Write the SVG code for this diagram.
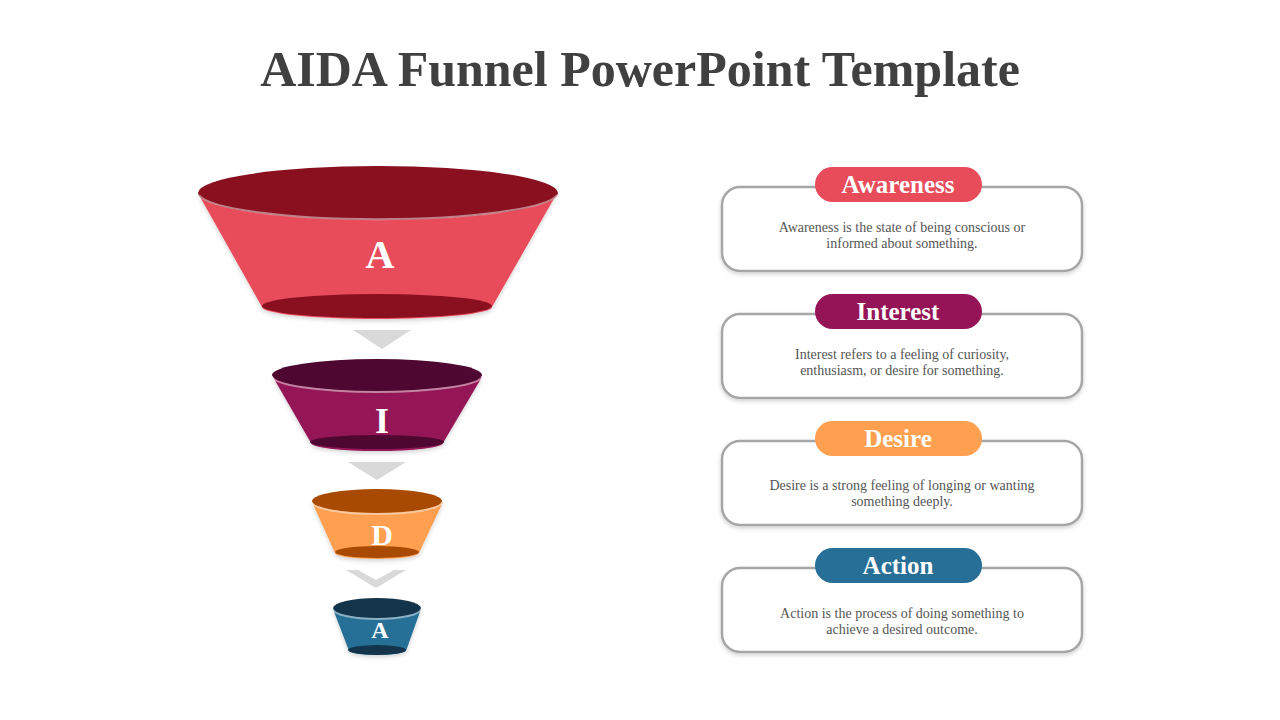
<svg xmlns="http://www.w3.org/2000/svg" width="1280" height="720" viewBox="0 0 1280 720">
<defs>
<filter id="sh" x="-10%" y="-10%" width="120%" height="130%"><feDropShadow dx="0" dy="2" stdDeviation="2" flood-color="#000" flood-opacity="0.18"/></filter>
</defs>
<style>
.t{font-family:"Liberation Serif","DejaVu Serif",serif;font-weight:bold}
.title{font-size:50px;fill:#404040}
.fl{font-size:40px;fill:#fff}
.box{fill:#fff;stroke:#a6a6a6;stroke-width:2.5}
.pt{font-size:25px;fill:#fff}
.body{font-family:"Liberation Serif","DejaVu Serif",serif;font-size:14px;fill:#555}
.arr{fill:#d9d9d9}
.rim{fill:none;stroke:#f2f2f2;stroke-opacity:0.5;stroke-width:2}
</style>
<rect width="1280" height="720" fill="#fff"/>
<text class="t title" x="640" y="86" text-anchor="middle">AIDA Funnel PowerPoint Template</text>

<g id="funnel-a1">
<path d="M199,195 L262,307 A115,12 0 0 0 492,307 L556,195 Z" fill="#e84b5a" filter="url(#sh)"/>
<ellipse cx="378" cy="193" rx="180" ry="27" fill="#8a101f"/>
<path d="M199,195 A180,27 0 0 0 557,195" class="rim"/>
<ellipse cx="377" cy="306" rx="115" ry="12" fill="#8a101f"/>
<text class="t fl" x="380" y="268" text-anchor="middle">A</text>
</g>
<g id="funnel-i">
<path d="M273,377 L311,443 A66,8 0 0 0 443,443 L482,377 Z" fill="#941457" filter="url(#sh)"/>
<ellipse cx="377" cy="375" rx="105" ry="16" fill="#4d0730"/>
<path d="M272,376 A105,16 0 0 0 482,376" class="rim"/>
<ellipse cx="377" cy="442" rx="67" ry="7" fill="#4d0730"/>
<text class="t fl" x="382" y="433" text-anchor="middle" style="font-size:36px">I</text>
</g>
<g id="funnel-d">
<path d="M312,502 L335,553 A42,6 0 0 0 419,553 L443,502 Z" fill="#ff9f50" filter="url(#sh)"/>
<ellipse cx="377" cy="501" rx="65" ry="12" fill="#a84a02"/>
<path d="M312,502 A65,12 0 0 0 442,502" class="rim"/>
<ellipse cx="377" cy="552" rx="42" ry="6" fill="#a84a02"/>
<text class="t fl" x="382" y="545" text-anchor="middle" style="font-size:30px">D</text>
</g>
<g id="funnel-a2">
<path d="M333,609 L349,651 A29,5 0 0 0 406,651 L421,609 Z" fill="#276f97" filter="url(#sh)"/>
<ellipse cx="377" cy="608" rx="44" ry="10" fill="#13344a"/>
<path d="M333,609 A44,10 0 0 0 421,609" class="rim"/>
<ellipse cx="377" cy="650" rx="29" ry="5" fill="#13344a"/>
<text class="t fl" x="380" y="638" text-anchor="middle" style="font-size:24px">A</text>
</g>

<g id="connectors">
<polygon class="arr" points="353,330 411,330 382,349"/>
<polygon class="arr" points="348,462 406,462 377,480"/>
<polygon class="arr" points="346,570 406,570 376,588 376,588"/>
<polygon points="358,570 394,570 376,580" fill="#fff"/>
</g>

<g id="card-awareness">
<rect class="box" x="722" y="187" width="360" height="84" rx="18" filter="url(#sh)"/>
<rect x="815" y="167" width="167" height="35" rx="17.5" fill="#e84b5a"/>
<text class="t pt" x="898" y="193" text-anchor="middle">Awareness</text>
<text class="body" x="902" y="232" text-anchor="middle">Awareness  is the state of being conscious or</text>
<text class="body" x="902" y="248" text-anchor="middle">informed about something.</text>
</g>
<g id="card-interest">
<rect class="box" x="722" y="314" width="360" height="84" rx="18" filter="url(#sh)"/>
<rect x="815" y="294" width="167" height="35" rx="17.5" fill="#941457"/>
<text class="t pt" x="898" y="320" text-anchor="middle">Interest</text>
<text class="body" x="902" y="359" text-anchor="middle">Interest  refers to a feeling of curiosity,</text>
<text class="body" x="902" y="375" text-anchor="middle">enthusiasm, or desire for something.</text>
</g>
<g id="card-desire">
<rect class="box" x="722" y="441" width="360" height="84" rx="18" filter="url(#sh)"/>
<rect x="815" y="421" width="167" height="35" rx="17.5" fill="#ff9f50"/>
<text class="t pt" x="898" y="447" text-anchor="middle">Desire</text>
<text class="body" x="902" y="490" text-anchor="middle">Desire is a strong feeling of longing or wanting</text>
<text class="body" x="902" y="506" text-anchor="middle">something deeply.</text>
</g>
<g id="card-action">
<rect class="box" x="722" y="568" width="360" height="84" rx="18" filter="url(#sh)"/>
<rect x="815" y="548" width="167" height="35" rx="17.5" fill="#276f97"/>
<text class="t pt" x="898" y="574" text-anchor="middle">Action</text>
<text class="body" x="902" y="618" text-anchor="middle">Action is the process of doing something to</text>
<text class="body" x="902" y="634" text-anchor="middle">achieve a desired outcome.</text>
</g>
</svg>
